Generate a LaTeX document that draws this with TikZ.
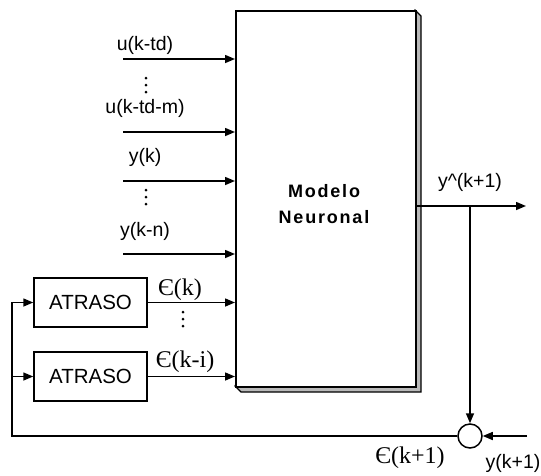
\documentclass[tikz,border=0pt]{standalone}
\usepackage{fontspec}
\setmainfont{Liberation Sans}
\newfontfamily\epsfont{Liberation Serif}
\newfontfamily\modelofont[LetterSpace=10]{Liberation Sans}
\usetikzlibrary{arrows.meta}

\begin{document}
\begin{tikzpicture}[x=1pt, y=-1pt, line width=1.5pt, line join=miter, >={Triangle[length=10pt,width=8pt]},
	font=\fontsize{19.5}{22}\selectfont,
	lbl/.style={inner sep=0pt},
	epslbl/.style={inner sep=0pt, font=\epsfont\fontsize{24}{28}\selectfont},
	atraso/.style={draw, fill=white, minimum width=113pt, minimum height=49pt, inner sep=0pt, font=\fontsize{20.5}{24}\selectfont}]
	\useasboundingbox (0,0) rectangle (541,475);
	% main block with its shadow
	\filldraw[fill=gray!55, line width=1.2pt] (235,386) -- (241,392) -- (421,392) -- (421,16) -- (415,10) -- cycle;
	\node[draw, fill=white, minimum width=180pt, minimum height=376pt, inner sep=0pt, anchor=north west] (modelo) at (235,10) {};
	\node[align=center, font=\modelofont\bfseries\fontsize{18}{26}\selectfont] (modtxt) at (324,204) {Modelo\\Neuronal};
	% inputs
	\coordinate (in1) at (123,59);
	\coordinate (in2) at (123,132);
	\coordinate (in3) at (123,181);
	\coordinate (in4) at (123,254);
	\draw[->] (in1) -- (modelo.west |- in1);
	\draw[->] (in2) -- (modelo.west |- in2);
	\draw[->] (in3) -- (modelo.west |- in3);
	\draw[->] (in4) -- (modelo.west |- in4);
	\node[lbl] (u1) at (145,45) {u(k-td)};
	\node[lbl] (u2) at (145,108) {u(k-td-m)};
	\node[lbl] (y1) at (145,157) {y(k)};
	\node[lbl] (y2) at (145,231) {y(k-n)};
	% vertical dots
	\foreach \dy in {0,7,14} {
		\fill (146,78+\dy) circle (1.5pt);
		\fill (146,190+\dy) circle (1.5pt);
		\fill (183,312+\dy) circle (1.5pt);
	}
	% delays
	\node[atraso] (atr1) at (90.5,302.5) {ATRASO};
	\node[atraso] (atr2) at (90.5,376.5) {ATRASO};
	\draw[->] (atr1.east) -- (modelo.west |- atr1);
	\draw[->] (atr2.east) -- (modelo.west |- atr2);
	\node[epslbl] (e1) at (180,290) {Є(k)};
	\node[epslbl] (e2) at (185,362) {Є(k-i)};
	% output and error
	\node[draw, circle, minimum size=24pt, inner sep=0pt] (sum) at (470,436) {};
	\coordinate (out) at (526,206);
	\coordinate (yin) at (527,436);
	\coordinate (fbl) at (12,436);
	\draw[->] (modelo.east |- out) -- (out);
	\draw[->] (sum.north |- out) -- (sum.north);
	\draw[->] (yin) -- (sum.east);
	\draw[->] (sum.west) -- (fbl) |- (atr1.west);
	\draw[->] (fbl |- atr2) -- (atr2.west);
	\node[lbl] (yhat) at (470,182) {y\textasciicircum(k+1)};
	\node[epslbl] (e3) at (410,458) {Є(k+1)};
	\node[lbl] (yk1) at (513,463) {y(k+1)};
\end{tikzpicture}
\end{document}
